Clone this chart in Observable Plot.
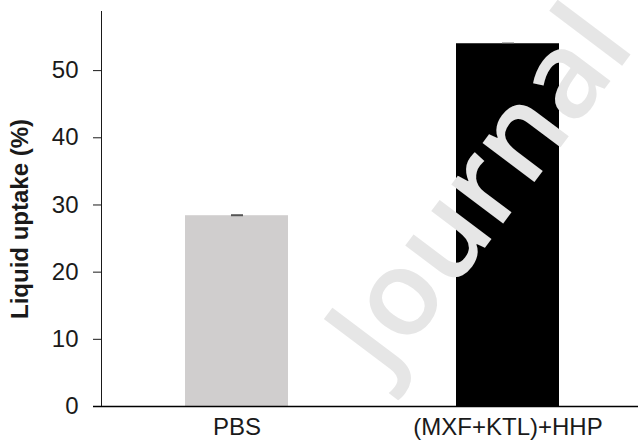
<!DOCTYPE html>
<html>
<head>
<meta charset="utf-8">
<script src="https://cdn.jsdelivr.net/npm/d3@7"></script>
<script src="https://cdn.jsdelivr.net/npm/@observablehq/plot@0.6"></script>
<style>
  body { margin: 0; background: #fff; }
</style>
</head>
<body>
<div id="chart"></div>
<script>
const categories = ["PBS", "(MXF+KTL)+HHP"];
const values = [28.4, 54.0];
const errors = [0.15, 0.1];
const barColors = ["#d0cece", "#000000"];
const yTicks = [0, 10, 20, 30, 40, 50];
const yLabel = "Liquid uptake (%)";
const watermark = "Journal";

const data = categories.map((c, i) => ({cat: c, value: values[i], err: errors[i], color: barColors[i]}));

const chart = Plot.plot({
  width: 638,
  height: 443,
  marginTop: 11,
  marginBottom: 37,
  marginLeft: 101,
  marginRight: 0,
  style: {fontFamily: "'Liberation Sans', Arial, sans-serif", fontSize: "24px", color: "#1a1a1a", background: "#fff"},
  x: {domain: categories, range: [101, 643], paddingInner: 0.62, paddingOuter: 0.31, tickSize: 0, tickPadding: 11, label: null, fontSize: 21},
  y: {domain: [0, 58.8], ticks: yTicks, tickSize: 8, tickPadding: 15, line: true, label: null},
  marks: [
    Plot.barY(data, {x: "cat", y: "value", fill: "color"}),
    Plot.ruleX(data, {x: "cat", y1: d => d.value - d.err, y2: d => d.value + d.err, stroke: "#555", strokeWidth: 12}),
    Plot.ruleY([0], {stroke: "#000", strokeWidth: 1.5, insetLeft: -8}),
    Plot.text([watermark], {frameAnchor: "middle", dx: 141, dy: 4, rotate: -53, textAnchor: "middle", lineAnchor: "bottom", fontSize: 120, fontWeight: 600, fill: "#e6e6e6", fontFamily: "'Open Sans', 'Noto Sans', sans-serif"}),
    Plot.text([yLabel], {frameAnchor: "left", dx: -81, dy: 10, rotate: -90, textAnchor: "middle", fontSize: 24, fontWeight: "bold", fill: "#1a1a1a"})
  ]
});
document.getElementById("chart").appendChild(chart);
</script>
</body>
</html>
